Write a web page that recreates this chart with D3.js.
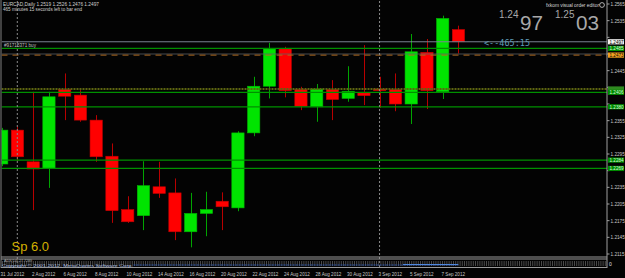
<!DOCTYPE html>
<html><head><meta charset="utf-8">
<script src="https://cdn.jsdelivr.net/npm/d3@7"></script>
<style>html,body{margin:0;padding:0;background:#000;}svg{display:block}</style>
</head><body><svg id="c" width="625" height="278"></svg>
<script>
// ---- data ----
const dates = ["31 Jul 2012","1 Aug 2012","2 Aug 2012","3 Aug 2012","6 Aug 2012","7 Aug 2012","8 Aug 2012","9 Aug 2012","10 Aug 2012","13 Aug 2012","14 Aug 2012","15 Aug 2012","16 Aug 2012","17 Aug 2012","20 Aug 2012","21 Aug 2012","22 Aug 2012","23 Aug 2012","24 Aug 2012","27 Aug 2012","28 Aug 2012","29 Aug 2012","30 Aug 2012","31 Aug 2012","3 Sep 2012","4 Sep 2012","5 Sep 2012","6 Sep 2012","7 Sep 2012","10 Sep 2012"];
const opens  = [1.2277,1.2338,1.2281,1.2269,1.2411,1.2401,1.2356,1.2291,1.2195,1.2184,1.2236,1.2225,1.2155,1.2188,1.2210,1.2198,1.2333,1.2417,1.2484,1.2411,1.2380,1.2411,1.2395,1.2405,1.2412,1.2411,1.2385,1.2478,1.2407,1.2519];
const highs  = [1.2342,1.2344,1.2407,1.2407,1.2440,1.2410,1.2365,1.2314,1.2219,1.2282,1.2281,1.2251,1.2225,1.2227,1.2226,1.2336,1.2434,1.2495,1.2488,1.2416,1.2421,1.2428,1.2453,1.2491,1.2434,1.2440,1.2511,1.2502,1.2544,1.2526];
const lows   = [1.2273,1.2282,1.2194,1.2234,1.2356,1.2353,1.2281,1.2171,1.2171,1.2158,1.2216,1.2140,1.2127,1.2147,1.2158,1.2192,1.2327,1.2395,1.2397,1.2374,1.2353,1.2356,1.2389,1.2383,1.2378,1.2372,1.2349,1.2376,1.2394,1.2476];
const closes = [1.2338,1.2290,1.2268,1.2398,1.2399,1.2356,1.2290,1.2193,1.2173,1.2238,1.2224,1.2155,1.2188,1.2195,1.2200,1.2333,1.2417,1.2484,1.2409,1.2381,1.2412,1.2393,1.2408,1.2400,1.2409,1.2385,1.2479,1.2409,1.2539,1.2497];
const priceTicks = [1.2565,1.2535,1.2505,1.2475,1.2445,1.2415,1.2385,1.2355,1.2325,1.2295,1.2265,1.2235,1.2205,1.2175,1.2145,1.2115];
const greenLevels = [1.2485,1.2406,1.2380,1.2284,1.2269];
const oliveLevel = 1.2412;
const grayLevel = 1.2475;
const orderLevel = 1.2473;
const bid = 1.2497, ask = 1.2503;
const separatorDates = ["1 Aug 2012","3 Sep 2012"];

// ---- layout ----
const W = 625, H = 278;
const L = 1.5, R = 607, T = 1, B = 257;
const svg = d3.select("#c");
svg.append("rect").attr("width",W).attr("height",H).attr("fill","#030303");

const x = d3.scalePoint().domain(dates).range([1.55, 458.3]);
const y = d3.scaleLinear().domain([1.2115, 1.2565]).range([254, 4]);
const FONT = "'Liberation Sans', Arial, sans-serif";

svg.append("clipPath").attr("id","clip").append("rect")
  .attr("x",L).attr("y",T).attr("width",R-L).attr("height",B-T);
const plot = svg.append("g").attr("clip-path","url(#clip)");

function squeeze(sel, f){ sel.each(function(){ const n=this; const l=n.getComputedTextLength(); n.setAttribute("textLength", l*f); n.setAttribute("lengthAdjust","spacingAndGlyphs"); }); }

// period separators
svg.selectAll("line.sep").data(separatorDates).join("line")
  .attr("x1",d=>x(d)).attr("x2",d=>x(d)).attr("y1",T).attr("y2",268)
  .attr("stroke","#8a8a8a").attr("stroke-width",1).attr("stroke-dasharray","2,2");

// candles
const idx = d3.range(dates.length);
const up = i => closes[i] >= opens[i];
plot.selectAll("line.wick").data(idx).join("line")
  .attr("x1",i=>Math.round(x(dates[i]))+0.5).attr("x2",i=>Math.round(x(dates[i]))+0.5)
  .attr("y1",i=>y(highs[i])).attr("y2",i=>y(lows[i]))
  .attr("stroke",i=>up(i)?"#00a400":"#b80000").attr("stroke-width",1);
plot.selectAll("rect.body").data(idx).join("rect")
  .attr("x",i=>x(dates[i])-6).attr("width",12.3)
  .attr("y",i=>y(Math.max(opens[i],closes[i])))
  .attr("height",i=>Math.max(1.5, Math.abs(y(opens[i])-y(closes[i]))))
  .attr("fill",i=>up(i)?"#00e400":"#ff0000")
  .attr("stroke",i=>up(i)?"#00b400":"#c00000").attr("stroke-width",0.6);

// horizontal levels
plot.selectAll("line.lvl").data(greenLevels).join("line")
  .attr("x1",L).attr("x2",R).attr("y1",d=>y(d)).attr("y2",d=>y(d))
  .attr("stroke","#009000").attr("stroke-width",1.2);
plot.append("line").attr("x1",L).attr("x2",R).attr("y1",y(oliveLevel)).attr("y2",y(oliveLevel))
  .attr("stroke","#5c6410").attr("stroke-width",2).attr("stroke-dasharray","2,1");
plot.append("line").attr("x1",L).attr("x2",R).attr("y1",y(grayLevel)).attr("y2",y(grayLevel))
  .attr("stroke","#5a5f66").attr("stroke-width",0.8);
plot.append("line").attr("x1",L).attr("x2",R).attr("y1",y(orderLevel)).attr("y2",y(orderLevel))
  .attr("stroke","#b06a20").attr("stroke-width",1).attr("stroke-dasharray","6,5");
plot.append("line").attr("x1",L).attr("x2",R).attr("y1",y(bid)).attr("y2",y(bid))
  .attr("stroke","#7a8494").attr("stroke-width",1);

// frame
svg.append("line").attr("x1",1).attr("x2",1).attr("y1",0).attr("y2",268).attr("stroke","#808080");
svg.append("line").attr("x1",R).attr("x2",R).attr("y1",0).attr("y2",268).attr("stroke","#a0a0a0");
svg.append("line").attr("x1",1).attr("x2",R).attr("y1",257).attr("y2",257).attr("stroke","#9a9a9a");
svg.append("line").attr("x1",1).attr("x2",R).attr("y1",259).attr("y2",259).attr("stroke","#9a9a9a");
svg.append("line").attr("x1",1).attr("x2",R).attr("y1",267.5).attr("y2",267.5).attr("stroke","#9a9a9a");

// sub window texture and indicator
svg.append("line").attr("x1",2).attr("x2",R-1).attr("y1",263.5).attr("y2",263.5)
  .attr("stroke","#4a4a4a").attr("stroke-width",5).attr("stroke-dasharray","1,1.2");
svg.append("line").attr("x1",x(dates[8])+6).attr("x2",x(dates[29])).attr("y1",265).attr("y2",265)
  .attr("stroke","#2f58b0").attr("stroke-width",1).attr("stroke-dasharray","2,1");
svg.append("line").attr("x1",x(dates[26])-8).attr("x2",x(dates[29])).attr("y1",264.5).attr("y2",264.5)
  .attr("stroke","#4f88e0").attr("stroke-width",1.2);

// price boxes (drawn over the axis labels they cover)
const boxes = [
  {p:bid, bg:"#f0f0f0", fg:"#000", label:true},
  {p:1.2485, bg:"#008a00", fg:"#d8ffd8", label:true},
  {p:orderLevel, bg:"#f0a020", fg:"#000", label:true},
  {p:oliveLevel, bg:"#2f8a20", fg:"#d8ffd8", label:false},
  {p:1.2406, bg:"#008a00", fg:"#d8ffd8", label:true},
  {p:1.2380, bg:"#008a00", fg:"#d8ffd8", label:true},
  {p:1.2284, bg:"#008a00", fg:"#d8ffd8", label:true},
  {p:1.2269, bg:"#008a00", fg:"#d8ffd8", label:true}
];
const visibleTicks = priceTicks.filter(t => !boxes.some(b => Math.abs(y(b.p)-y(t)) < 5));

// price axis
const ya = svg.append("g");
ya.selectAll("line").data(priceTicks).join("line")
  .attr("x1",R).attr("x2",R+2.5).attr("y1",d=>y(d)).attr("y2",d=>y(d)).attr("stroke","#a0a0a0");
ya.selectAll("text").data(visibleTicks).join("text")
  .attr("x",R+3.5).attr("y",d=>y(d)+1.9).attr("fill","#c8c8c8")
  .attr("font-family",FONT).attr("font-size",4.7).text(d=>d.toFixed(4));

const bx = svg.selectAll("g.box").data(boxes).join("g");
bx.append("rect").attr("x",R+1).attr("y",d=>y(d.p)-2.6).attr("width",16).attr("height",5.2).attr("fill",d=>d.bg);
bx.filter(d=>d.label).append("text").attr("x",R+2.5).attr("y",d=>y(d.p)+1.8).attr("fill",d=>d.fg)
  .attr("font-family",FONT).attr("font-size",4.6).text(d=>d.p.toFixed(4));

// time axis
const lab = svg.selectAll("text.date").data(dates.filter((d,i)=>i%2===0)).join("text")
  .attr("x",d=>x(d)-1).attr("y",276).attr("fill","#c8c8c8")
  .attr("font-family",FONT).attr("font-size",5.6).text(d=>d);
squeeze(lab,0.82);

// header texts
svg.append("text").attr("x",3).attr("y",6).attr("fill","#d0d0d0").attr("font-family",FONT).attr("font-size",5.6)
  .text("EURCAD,Daily  " + [opens[29],highs[29],lows[29],closes[29]].map(v=>v.toFixed(4)).join(" "))
  .attr("textLength",96).attr("lengthAdjust","spacingAndGlyphs");
svg.append("text").attr("x",3).attr("y",11.3).attr("fill","#d0d0d0").attr("font-family",FONT).attr("font-size",5.6)
  .text("465 minutes 15 seconds left to bar end").attr("textLength",79).attr("lengthAdjust","spacingAndGlyphs");
svg.append("text").attr("x",4).attr("y",47).attr("fill","#c0c0c0").attr("font-family",FONT).attr("font-size",5.4)
  .text("#91715371 buy").attr("textLength",32).attr("lengthAdjust","spacingAndGlyphs");

// top right
svg.append("text").attr("x",546).attr("y",7).attr("fill","#d8d8d8").attr("font-family",FONT).attr("font-size",5.6)
  .text("fxkom visual order editor").attr("textLength",53).attr("lengthAdjust","spacingAndGlyphs");
svg.append("circle").attr("cx",602).attr("cy",5).attr("r",2.4).attr("fill","none").attr("stroke","#d8d8d8").attr("stroke-width",0.8);

const bigCol = "#a8a8a8";
function bigPrice(v, x0){
  const s = v.toFixed(4);
  svg.append("text").attr("x",x0).attr("y",18).attr("fill",bigCol).attr("font-family",FONT).attr("font-size",10).text(s.slice(0,4));
  svg.append("text").attr("x",x0+21).attr("y",30).attr("fill",bigCol).attr("font-family",FONT).attr("font-size",20)
    .text(s.slice(4)).attr("textLength",23).attr("lengthAdjust","spacingAndGlyphs");
}
bigPrice(bid, 499);
bigPrice(ask, 555);
svg.append("text").attr("x",484).attr("y",46).attr("fill","#5f9cb8").attr("font-family","'DejaVu Sans Mono', monospace").attr("font-size",8)
  .text("<--465:15").attr("textLength",46).attr("lengthAdjust","spacingAndGlyphs");

// spread
svg.append("text").attr("x",11.5).attr("y",250.5).attr("fill","#d4b000").attr("font-family",FONT).attr("font-size",13).text("Sp 6.0");

// sub window texts
svg.append("text").attr("x",4).attr("y",262).attr("fill","#b0b0b0").attr("font-family",FONT).attr("font-size",3.6)
  .text("ADX(14) 27.7289").attr("textLength",28).attr("lengthAdjust","spacingAndGlyphs");
svg.append("text").attr("x",2).attr("y",267).attr("fill","#b8c8e8").attr("font-family",FONT).attr("font-size",4.4)
  .text("Copyright © 2001-2012, MetaQuotes Software Corp.").attr("textLength",131).attr("lengthAdjust","spacingAndGlyphs");
svg.append("text").attr("x",609).attr("y",266).attr("fill","#e0e0e0").attr("font-family",FONT).attr("font-size",5).text("0");
</script></body></html>
